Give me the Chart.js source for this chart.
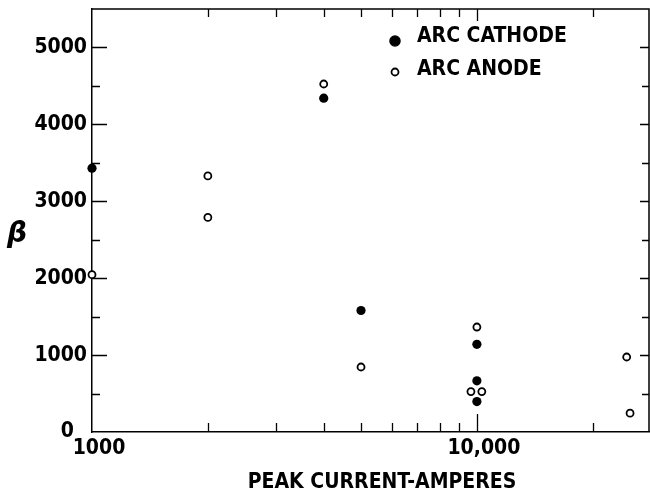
<!DOCTYPE html>
<html>
<head>
<meta charset="utf-8">
<script src="https://cdn.jsdelivr.net/npm/chart.js@4.4.1/dist/chart.umd.min.js"></script>
<style>
  html, body { margin: 0; padding: 0; background: #fff; }
  canvas { display: block; }
</style>
</head>
<body>
<canvas id="myChart" width="650" height="493"></canvas>
<script>
// values
const cathodeCurrent = [1000, 4000, 5000, 10000, 10000, 10000];
const cathodeBeta = [3430, 4340, 1580, 1140, 665, 395];

const anodeCurrent = [1000, 2000, 2000, 4000, 5000, 10000, 9650, 10300, 24500, 25000];
const anodeBeta = [2045, 3330, 2790, 4525, 845, 1365, 525, 525, 975, 245];

const xLabelTicks = [1000, 10000];
const xLabelText = ['1000', '10,000'];
const xMinorTicks = [2000, 3000, 4000, 5000, 6000, 7000, 8000, 9000, 20000];
const xMajorTicks = [10000];
const yLabelTicks = [0, 1000, 2000, 3000, 4000, 5000];
const yMinorTicks = [500, 1500, 2500, 3500, 4500];

const seriesNames = ['ARC CATHODE', 'ARC ANODE'];
const xTitle = 'PEAK CURRENT-AMPERES';
const yTitle = 'β';

const FAMILY = "'DejaVu Sans Condensed', 'DejaVu Sans', sans-serif";

function toPoints(xs, ys) {
    return xs.map((x, i) => ({ x: x, y: ys[i] }));
}

// inward ticks on all four sides, legend and titles
const framePlugin = {
    id: 'frame',
    afterDraw(chart) {
        const ctx = chart.ctx;
        const area = chart.chartArea;
        const xs = chart.scales.x;
        const ys = chart.scales.y;

        ctx.save();
        ctx.strokeStyle = '#000';
        ctx.lineWidth = 1.5;
        ctx.beginPath();
        ctx.moveTo(area.left, area.top);
        ctx.lineTo(area.right, area.top);
        ctx.lineTo(area.right, area.bottom);
        ctx.stroke();

        ctx.lineWidth = 1.3;
        ctx.beginPath();
        xMinorTicks.forEach(v => {
            const px = Math.round(xs.getPixelForValue(v)) + 0.5;
            ctx.moveTo(px, area.bottom); ctx.lineTo(px, area.bottom - 9);
            ctx.moveTo(px, area.top); ctx.lineTo(px, area.top + 8);
        });
        xMajorTicks.forEach(v => {
            const px = Math.round(xs.getPixelForValue(v)) + 0.5;
            ctx.moveTo(px, area.bottom); ctx.lineTo(px, area.bottom - 18);
            ctx.moveTo(px, area.top); ctx.lineTo(px, area.top + 12);
        });
        yLabelTicks.forEach(v => {
            if (v === 0) return;
            const py = Math.round(ys.getPixelForValue(v)) + 0.5;
            ctx.moveTo(area.left, py); ctx.lineTo(area.left + 15, py);
            ctx.moveTo(area.right, py); ctx.lineTo(area.right - 9, py);
        });
        yMinorTicks.forEach(v => {
            const py = Math.round(ys.getPixelForValue(v)) + 0.5;
            ctx.moveTo(area.left, py); ctx.lineTo(area.left + 8, py);
            ctx.moveTo(area.right, py); ctx.lineTo(area.right - 7, py);
        });
        ctx.stroke();

        // legend
        const lx = area.left + 303;
        const ly = area.top + 32;
        chart.data.datasets.forEach((ds, i) => {
            const cy = ly + i * 31;
            ctx.beginPath();
            ctx.arc(lx, cy, ds.pointRadius + (i === 0 ? 0.5 : 0), 0, Math.PI * 2);
            ctx.fillStyle = ds.pointBackgroundColor;
            ctx.fill();
            ctx.lineWidth = ds.pointBorderWidth;
            ctx.strokeStyle = ds.pointBorderColor;
            ctx.stroke();
            ctx.fillStyle = '#000';
            ctx.font = 'bold 21px ' + FAMILY;
            ctx.textAlign = 'left';
            ctx.textBaseline = 'alphabetic';
            ctx.fillText(seriesNames[i], lx + 22, cy + 1 + (i === 0 ? 0 : 2));
        });

        // axis titles
        ctx.fillStyle = '#000';
        ctx.font = 'bold 21px ' + FAMILY;
        ctx.textAlign = 'center';
        ctx.textBaseline = 'alphabetic';
        ctx.fillText(xTitle, 382, 488);

        ctx.font = "italic bold 28px 'DejaVu Sans', sans-serif";
        ctx.textBaseline = 'middle';
        ctx.fillText(yTitle, 17, 235);
        ctx.restore();
    }
};

const ctx = document.getElementById('myChart');
const myChart = new Chart(ctx, {
    type: 'scatter',
    data: {
        datasets: [{
            label: seriesNames[0],
            data: toPoints(cathodeCurrent, cathodeBeta),
            pointRadius: 4.6,
            pointBackgroundColor: '#000',
            pointBorderColor: '#000',
            pointBorderWidth: 0,
            clip: false
        }, {
            label: seriesNames[1],
            data: toPoints(anodeCurrent, anodeBeta),
            pointRadius: 3.5,
            pointBackgroundColor: '#fff',
            pointBorderColor: '#000',
            pointBorderWidth: 1.8,
            clip: false
        }]
    },
    options: {
        responsive: false,
        animation: false,
        events: [],
        layout: { autoPadding: false, padding: { top: 9, right: 1, left: 0, bottom: 0 } },
        plugins: {
            legend: { display: false },
            tooltip: { enabled: false }
        },
        scales: {
            x: {
                type: 'logarithmic',
                position: 'bottom',
                min: 1000,
                max: 28000,
                grid: { display: false, drawTicks: false },
                border: { display: true, color: '#000', width: 1.5 },
                afterBuildTicks: (scale) => {
                    scale.ticks = xLabelTicks.map(v => ({ value: v }));
                },
                afterFit: (scale) => {
                    scale.height = 61;
                    scale.paddingLeft = 0;
                    scale.paddingRight = 0;
                },
                ticks: {
                    autoSkip: false,
                    maxRotation: 0,
                    padding: 4,
                    labelOffset: 7,
                    color: '#000',
                    font: { family: FAMILY, size: 21, weight: 'bold' },
                    callback: (v) => {
                        const i = xLabelTicks.indexOf(v);
                        return i >= 0 ? xLabelText[i] : '';
                    }
                }
            },
            y: {
                type: 'linear',
                position: 'left',
                min: 0,
                max: 5500,
                grid: { display: false, drawTicks: false },
                border: { display: true, color: '#000', width: 1.5 },
                afterBuildTicks: (scale) => {
                    scale.ticks = yLabelTicks.map(v => ({ value: v }));
                },
                afterFit: (scale) => {
                    scale.width = 92;
                    scale.paddingTop = 0;
                    scale.paddingBottom = 0;
                },
                ticks: {
                    padding: 5,
                    color: '#000',
                    font: { family: FAMILY, size: 21, weight: 'bold' },
                    callback: (v) => (v === 0 ? '0  ' : String(v))
                }
            }
        }
    },
    plugins: [framePlugin]
});
</script>
</body>
</html>
